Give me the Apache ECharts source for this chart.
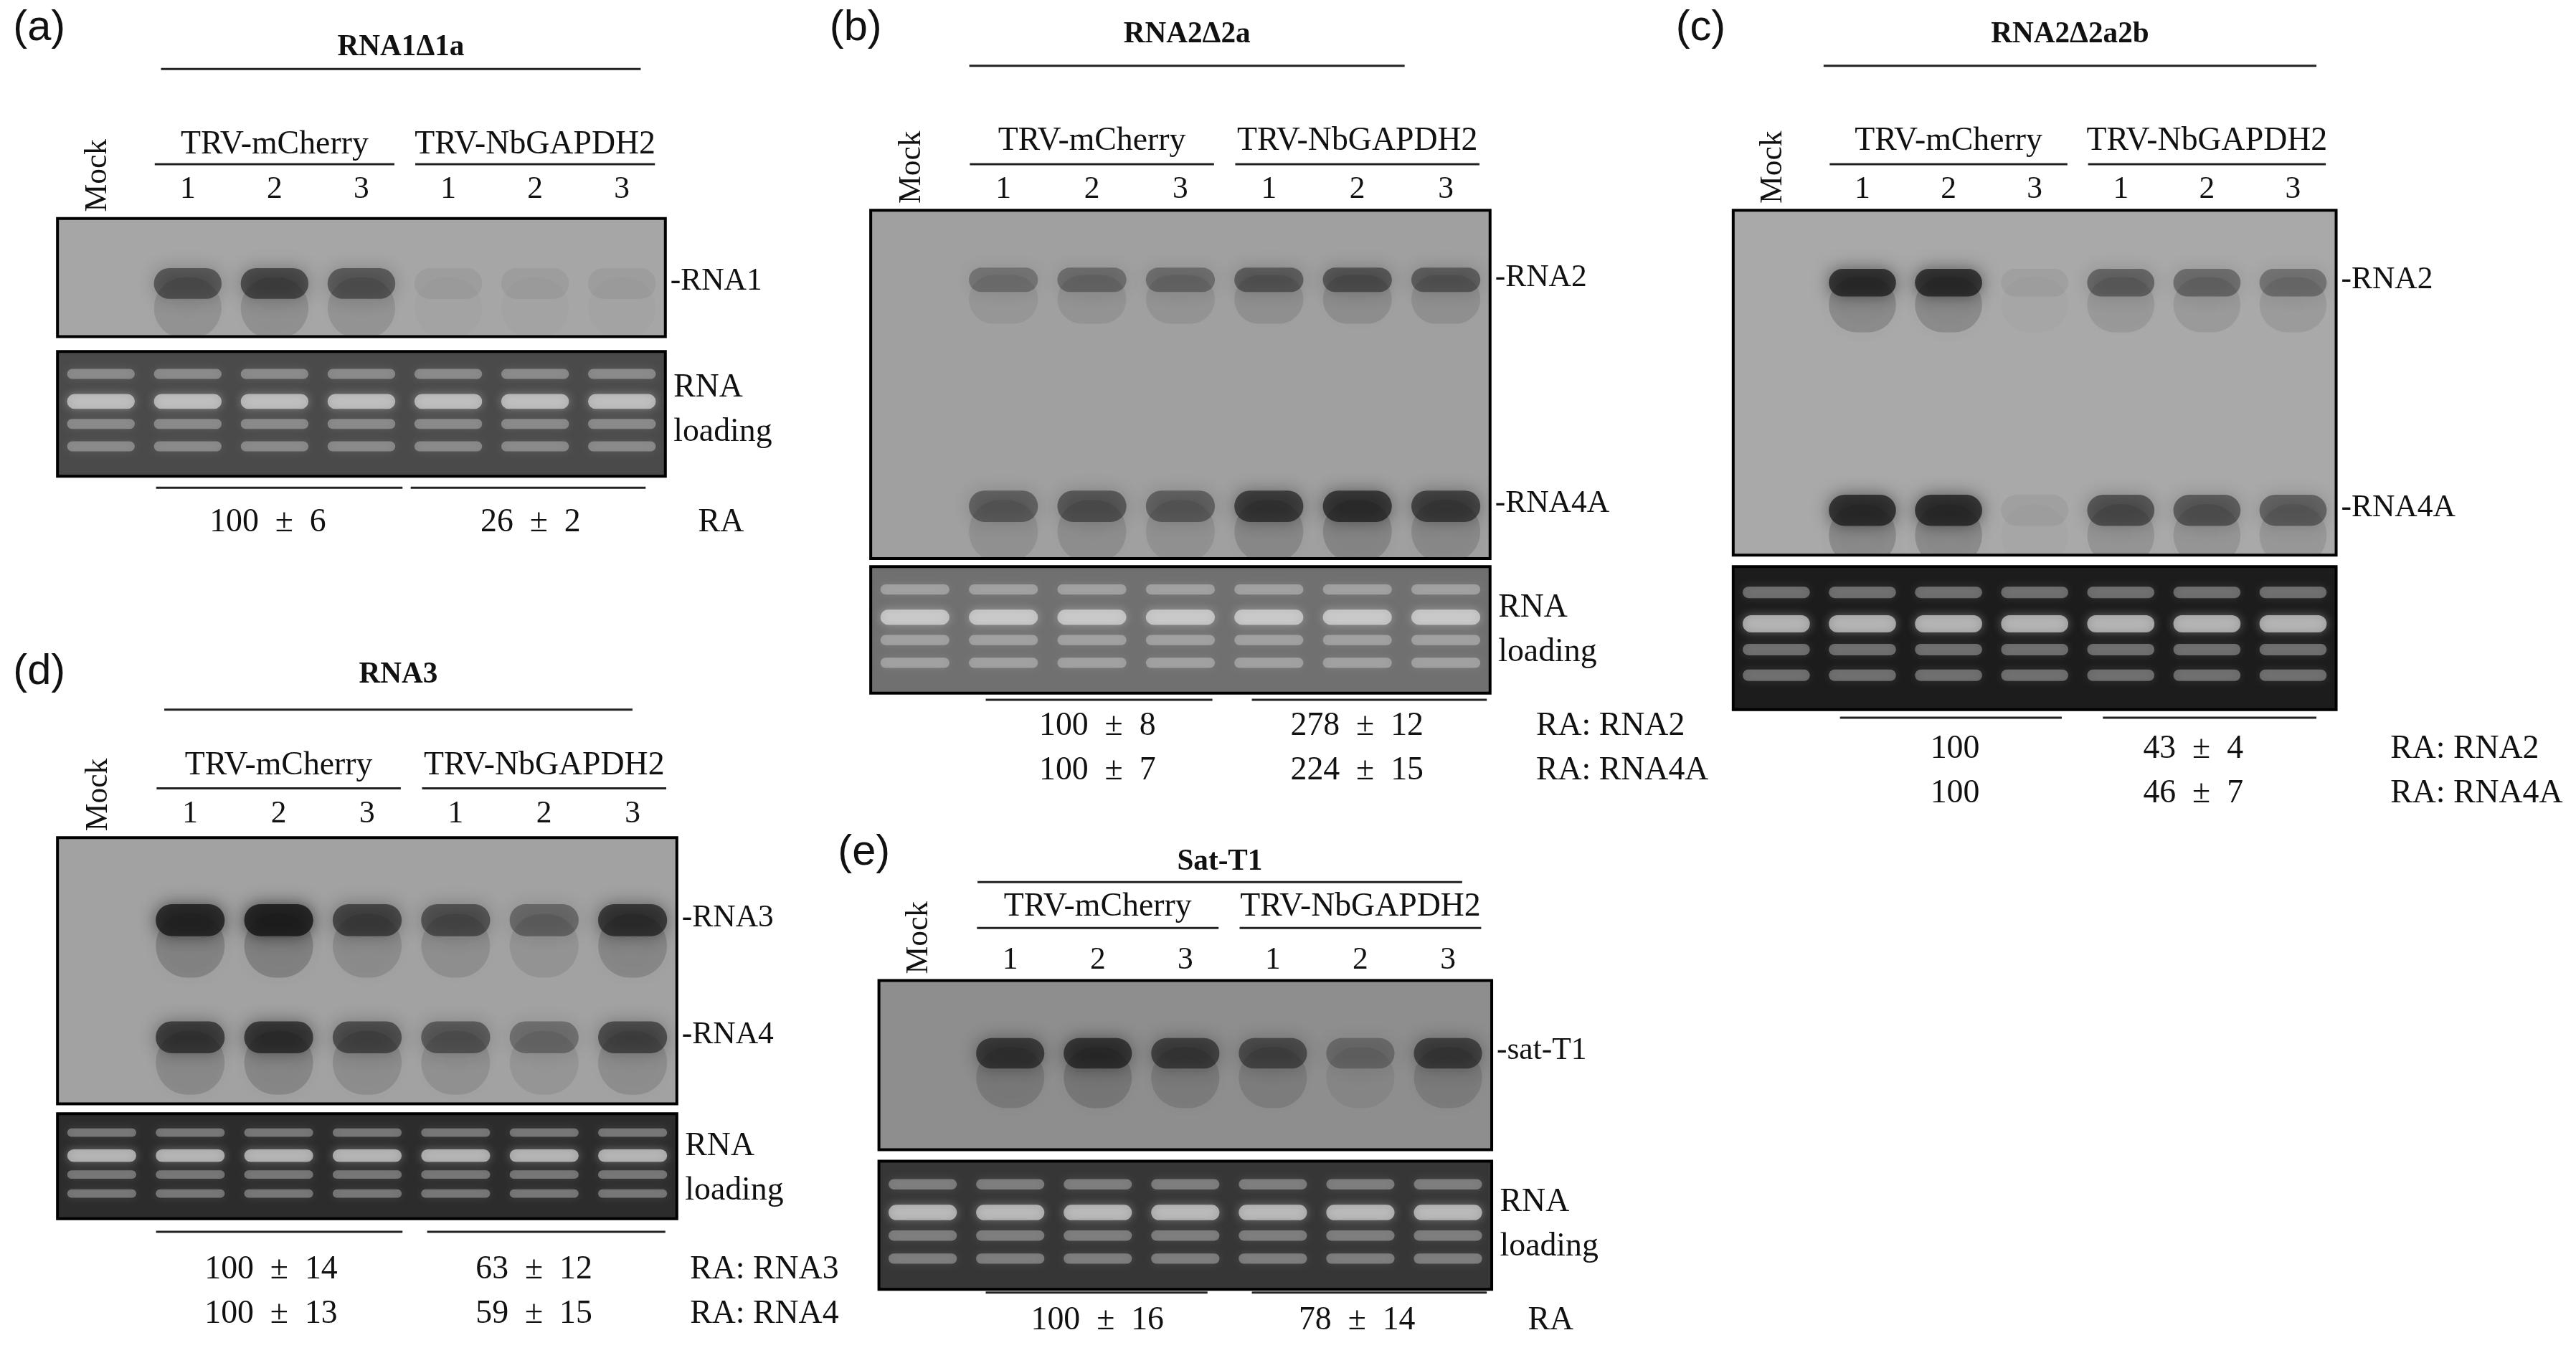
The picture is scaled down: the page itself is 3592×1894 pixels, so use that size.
<!DOCTYPE html>
<html><head><meta charset="utf-8">
<script src="https://cdn.jsdelivr.net/npm/echarts@6/dist/echarts.min.js"></script>
<style>html,body{margin:0;background:#fff}#c{width:3592px;height:1894px}</style>
</head><body><div id="c"></div>
<script>
// lanes & labels
var lanes = ['Mock', '1', '2', '3', '1', '2', '3'];
var groups = ['TRV-mCherry', 'TRV-NbGAPDH2'];
// band intensities per lane (0..1)
var rna1 = [0, 0.5, 0.58, 0.48, 0.06, 0.06, 0.06];
var rna2b = [0, 0.3, 0.35, 0.35, 0.45, 0.5, 0.45];
var rna4ab = [0, 0.42, 0.48, 0.42, 0.65, 0.7, 0.62];
var rna2c = [0, 0.75, 0.75, 0.06, 0.42, 0.38, 0.34];
var rna4ac = [0, 0.75, 0.75, 0.06, 0.52, 0.48, 0.44];
var rna3 = [0, 0.8, 0.85, 0.6, 0.52, 0.38, 0.7];
var rna4 = [0, 0.65, 0.7, 0.55, 0.47, 0.34, 0.56];
var satT1 = [0, 0.65, 0.7, 0.6, 0.52, 0.3, 0.6];
var loadingBands = [18, 40, 58, 76];
// relative abundance text
var raA = [['100  ±  6', '26  ±  2', 'RA']];
var raB = [['100  ±  8', '278  ±  12', 'RA: RNA2'], ['100  ±  7', '224  ±  15', 'RA: RNA4A']];
var raC = [['100', '43  ±  4', 'RA: RNA2'], ['100', '46  ±  7', 'RA: RNA4A']];
var raD = [['100  ±  14', '63  ±  12', 'RA: RNA3'], ['100  ±  13', '59  ±  15', 'RA: RNA4']];
var raE = [['100  ±  16', '78  ±  14', 'RA']];

var S = 3592 / 1568;
function p(v) { return v * S; }
var serif = 'Liberation Serif';

var panels = [
  {tag: '(a)', tagX: 8, tagY: 4, title: 'RNA1Δ1a', titleY: 20, lineY: 42, lineX: [98, 390], groupY: 78, ulY: 100, numY: 106,
   blot: [35, 133, 370, 72], blotBg: '#a6a6a6', load: [35, 214, 370, 76], loadBg: '#4a4a4a',
   bands: [{name: '-RNA1', y: 55, h: 26, v: rna1}], loadLab: 226, ra: raA, raY: 308, bl: 297, bx: [[95, 245], [250, 393]], raX: [163, 323, 425]},
  {tag: '(b)', tagX: 505, tagY: 4, title: 'RNA2Δ2a', titleY: 12, lineY: 40, lineX: [590, 855], groupY: 76, ulY: 100, numY: 106,
   blot: [530, 128, 377, 212], blotBg: '#a0a0a0', load: [530, 345, 377, 77], loadBg: '#707070',
   bands: [{name: '-RNA2', y: 20, h: 7, v: rna2b}, {name: '-RNA4A', y: 85, h: 9, v: rna4ab}], loadLab: 360, ra: raB, raY: 432, bl: 426, bx: [[600, 738], [762, 905]], raX: [668, 826, 935]},
  {tag: '(c)', tagX: 1020, tagY: 4, title: 'RNA2Δ2a2b', titleY: 12, lineY: 40, lineX: [1110, 1410], groupY: 76, ulY: 100, numY: 106,
   blot: [1055, 128, 367, 210], blotBg: '#a9a9a9', load: [1055, 345, 367, 87], loadBg: '#1c1c1c',
   bands: [{name: '-RNA2', y: 21, h: 8, v: rna2c}, {name: '-RNA4A', y: 87, h: 9, v: rna4ac}], loadLab: null, ra: raC, raY: 446, bl: 437, bx: [[1120, 1255], [1280, 1410]], raX: [1190, 1335, 1455]},
  {tag: '(d)', tagX: 8, tagY: 396, title: 'RNA3', titleY: 402, lineY: 432, lineX: [100, 385], groupY: 456, ulY: 480, numY: 486,
   blot: [35, 510, 377, 162], blotBg: '#a2a2a2', load: [35, 678, 377, 64], loadBg: '#2c2c2c',
   bands: [{name: '-RNA3', y: 31, h: 12, v: rna3}, {name: '-RNA4', y: 75, h: 12, v: rna4}], loadLab: 688, ra: raD, raY: 763, bl: 750, bx: [[95, 245], [260, 405]], raX: [165, 325, 420]},
  {tag: '(e)', tagX: 510, tagY: 506, title: 'Sat-T1', titleY: 516, lineY: 537, lineX: [595, 890], groupY: 542, ulY: 565, numY: 575,
   blot: [535, 597, 373, 103], blotBg: '#8e8e8e', load: [535, 707, 373, 78], loadBg: '#363636',
   bands: [{name: '-sat-T1', y: 43, h: 18, v: satT1}], loadLab: 722, ra: raE, raY: 794, bl: 787, bx: [[600, 735], [762, 905]], raX: [668, 826, 930]}
];

var grids = [], xAxes = [], yAxes = [], series = [], graphic = [];
function addGrid(r, bg) {
  grids.push({left: p(r[0]), top: p(r[1]), width: p(r[2]), height: p(r[3]), show: true, backgroundColor: bg, borderColor: '#000', borderWidth: 4});
  var i = grids.length - 1;
  xAxes.push({type: 'category', data: lanes, gridIndex: i, show: false});
  yAxes.push({type: 'value', min: 0, max: 100, inverse: true, gridIndex: i, show: false});
  return i;
}
function bandSeries(i, data, dark, blur) {
  series.push({
    type: 'custom', xAxisIndex: i, yAxisIndex: i, data: data, silent: true, clip: true,
    renderItem: function (params, api) {
      var c = api.coord([api.value(0), api.value(1)]);
      var w = api.size([1, 0])[0] * 0.78;
      var h = api.size([0, api.value(3)])[1];
      var a = api.value(2);
      var col = dark ? 'rgba(25,25,25,' + a + ')' : 'rgba(235,235,235,' + a + ')';
      return {type: 'rect', shape: {x: c[0] - w / 2, y: c[1] - h / 2, width: w, height: h, r: h / 2},
        style: {fill: col, shadowBlur: blur, shadowColor: col}};
    }
  });
}
function txt(x, y, s, size, opt) {
  graphic.push(Object.assign({type: 'text', x: p(x), y: p(y), style: {text: s, font: p(size) + 'px "' + serif + '"', fill: '#111'}}, opt || {}));
}
function line(x1, x2, y) {
  graphic.push({type: 'line', shape: {x1: p(x1), y1: p(y), x2: p(x2), y2: p(y)}, style: {stroke: '#222', lineWidth: 3}});
}

panels.forEach(function (P) {
  var bi = addGrid(P.blot, P.blotBg);
  var li = addGrid(P.load, P.loadBg);
  var bd = [];
  P.bands.forEach(function (b) {
    b.v.forEach(function (v, k) { bd.push([k, b.y, v, b.h]); });
    // faint smear below band
    b.v.forEach(function (v, k) { bd.push([k, b.y + b.h * 0.8, v * 0.25, b.h * 2]); });
    txt(P.blot[0] + P.blot[2] + 3, P.blot[1] + P.blot[3] * b.y / 100 - 11, b.name, 19);
  });
  bandSeries(bi, bd, true, p(10));
  var ld = [];
  loadingBands.forEach(function (y, j) { for (var k = 0; k < 7; k++) ld.push([k, y, j === 1 ? 0.6 : 0.35, j === 1 ? 12 : 8]); });
  bandSeries(li, ld, false, p(6));
  if (P.loadLab != null) { txt(P.load[0] + P.load[2] + 5, P.loadLab, 'RNA', 20); txt(P.load[0] + P.load[2] + 5, P.loadLab + 27, 'loading', 20); }
  // lane labels
  var lw = P.blot[2] / 7;
  function lc(k) { return P.blot[0] + (k + 0.5) * lw; }
  graphic.push({type: 'text', x: p(lc(0) - 2), y: p(P.blot[1] - 4), rotation: Math.PI / 2,
    style: {text: 'Mock', font: p(19) + 'px "' + serif + '"', fill: '#111', align: 'left', verticalAlign: 'middle'}});
  for (var k = 1; k < 7; k++) txt(lc(k), P.numY, lanes[k], 19, {style: {text: lanes[k], font: p(19) + 'px "' + serif + '"', fill: '#111', align: 'center'}});
  [[1, 3], [4, 6]].forEach(function (g, j) {
    var x1 = lc(g[0]) - lw * 0.38, x2 = lc(g[1]) + lw * 0.38;
    line(x1, x2, P.ulY);
    graphic.push({type: 'text', x: p((x1 + x2) / 2), y: p(P.groupY), style: {text: groups[j], font: p(20) + 'px "' + serif + '"', fill: '#111', align: 'center'}});
  });
  line(P.lineX[0], P.lineX[1], P.lineY);
  graphic.push({type: 'text', x: p((P.lineX[0] + P.lineX[1]) / 2), y: p(P.titleY), style: {text: P.title, font: 'bold ' + p(18) + 'px "' + serif + '"', fill: '#111', align: 'center'}});
  graphic.push({type: 'text', x: p(P.tagX), y: p(P.tagY), style: {text: P.tag, font: p(26) + 'px "Liberation Sans"', fill: '#111'}});
  P.bx.forEach(function (b) { line(b[0], b[1], P.bl); });
  P.ra.forEach(function (r, j) {
    var y = P.raY + j * 27;
    graphic.push({type: 'text', x: p(P.raX[0]), y: p(y), style: {text: r[0], font: p(20) + 'px "' + serif + '"', fill: '#111', align: 'center'}});
    graphic.push({type: 'text', x: p(P.raX[1]), y: p(y), style: {text: r[1], font: p(20) + 'px "' + serif + '"', fill: '#111', align: 'center'}});
    txt(P.raX[2], y, r[2], 20);
  });
});

var chart = echarts.init(document.getElementById('c'));
chart.setOption({animation: false, grid: grids, xAxis: xAxes, yAxis: yAxes, series: series, graphic: graphic});
</script></body></html>
